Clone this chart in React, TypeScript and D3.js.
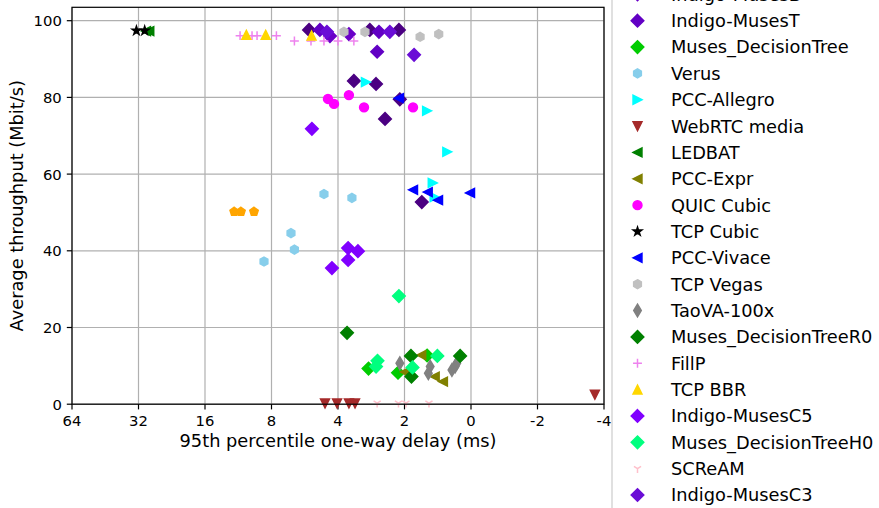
import React, { useEffect, useRef } from 'react';
import * as d3 from 'd3';

// x axis is log2 of delay, read from right to left; the tick labels are the ones printed on the chart
const xTickValues = [64, 32, 16, 8, 4, 2, 1, 0.5, 0.25];
const xTickLabels = ['64', '32', '16', '8', '4', '2', '0', '-2', '-4'];
const yTickValues = [0, 20, 40, 60, 80, 100];

// [95th percentile one-way delay (ms), average throughput (Mbit/s)]
const copa = [[11.8, 50.2], [11.0, 50.2], [9.6, 50.2]];
const indigo = [[5.41, 97.6], [2.87, 97.6], [2.12, 97.6], [3.39, 84.3], [2.69, 83.5], [2.1, 79.5], [2.45, 74.4], [1.67, 52.7]];
const indigoMusesD = [[4.35, 96.0], [3.57, 96.5]];
const indigoMusesT = [[4.83, 97.6], [2.61, 97.1], [2.66, 91.9]];
const musesDecisionTree = [[2.91, 9.3], [2.14, 8.2], [1.58, 12.7]];
const verus = [[4.63, 54.8], [3.46, 53.8], [6.53, 44.6], [6.3, 40.3], [8.65, 37.2]];
const pccAllegro = [[2.99, 84.0], [1.58, 76.5], [1.28, 65.8], [1.49, 57.7], [1.46, 54.0]];
const webrtc = [[4.58, 0.2], [4.04, 0.2], [3.57, 0.2], [3.35, 0.2], [0.275, 2.5]];
const ledbat = [[29.6, 97.3], [28.6, 97.3]];
const pccExpr = [[1.68, 12.8], [1.46, 7.2], [1.34, 5.9], [1.99, 8.4]];
const quicCubic = [[4.44, 79.6], [4.17, 78.3], [3.57, 80.6], [3.05, 77.4], [1.83, 77.4]];
const tcpCubic = [[32.7, 97.4], [30.0, 97.4]];
const pccVivace = [[2.12, 79.8], [1.83, 55.9], [1.57, 55.3], [1.41, 53.2], [1.01, 55.1]];
const tcpVegas = [[3.76, 97.1], [3.02, 97.1], [1.7, 95.8], [1.4, 96.5]];
const taova = [[2.1, 10.7], [1.53, 9.8], [1.56, 8.1], [1.18, 9.8], [1.22, 8.9], [1.16, 10.7]];
const musesR0 = [[3.64, 18.6], [1.87, 12.6], [1.86, 7.2], [1.12, 12.6]];
const fillp = [[11.1, 96.1], [9.8, 96.1], [9.3, 96.1], [7.6, 96.1], [6.3, 94.7], [5.3, 94.7], [4.63, 94.7], [4.0, 94.7], [3.39, 94.7]];
const tcpBbr = [[10.4, 96.3], [8.5, 96.3], [5.27, 96.1]];
const indigoMusesC5 = [[5.25, 71.8], [3.6, 40.7], [3.25, 39.9], [3.6, 37.6], [4.26, 35.5]];
const musesH0 = [[2.65, 11.3], [2.69, 9.8], [1.84, 9.6], [1.42, 12.6], [2.12, 28.2]];
const scream = [[2.66, 0.3], [2.13, 0.3], [1.97, 0.3], [1.55, 0.3]];
const indigoMusesC3 = [[4.49, 97.1], [2.33, 97.1], [1.81, 91.1]];

const series = [
  { name: 'Copa', data: copa, color: '#ffa500', marker: 'p' },
  { name: 'Indigo', data: indigo, color: '#4b0082', marker: 'D' },
  { name: 'Indigo-MusesD', data: indigoMusesD, color: '#6a00c8', marker: 'D' },
  { name: 'Indigo-MusesT', data: indigoMusesT, color: '#6200c4', marker: 'D' },
  { name: 'Muses_DecisionTree', data: musesDecisionTree, color: '#00cc00', marker: 'D' },
  { name: 'Verus', data: verus, color: '#87ceeb', marker: 'h' },
  { name: 'PCC-Allegro', data: pccAllegro, color: '#00ffff', marker: '>' },
  { name: 'WebRTC media', data: webrtc, color: '#a52a2a', marker: 'v' },
  { name: 'LEDBAT', data: ledbat, color: '#008000', marker: '<' },
  { name: 'PCC-Expr', data: pccExpr, color: '#808000', marker: '<' },
  { name: 'QUIC Cubic', data: quicCubic, color: '#ff00ff', marker: 'o' },
  { name: 'TCP Cubic', data: tcpCubic, color: '#000000', marker: '*' },
  { name: 'PCC-Vivace', data: pccVivace, color: '#0000ff', marker: '<' },
  { name: 'TCP Vegas', data: tcpVegas, color: '#c0c0c0', marker: 'h' },
  { name: 'TaoVA-100x', data: taova, color: '#808080', marker: 'd' },
  { name: 'Muses_DecisionTreeR0', data: musesR0, color: '#008000', marker: 'D' },
  { name: 'FillP', data: fillp, color: '#ee82ee', marker: '+' },
  { name: 'TCP BBR', data: tcpBbr, color: '#ffd700', marker: '^' },
  { name: 'Indigo-MusesC5', data: indigoMusesC5, color: '#8000ff', marker: 'D' },
  { name: 'Muses_DecisionTreeH0', data: musesH0, color: '#00ff7f', marker: 'D' },
  { name: 'SCReAM', data: scream, color: '#ffc0cb', marker: '1' },
  { name: 'Indigo-MusesC3', data: indigoMusesC3, color: '#6a0dd6', marker: 'D' },
];

const W = 879;
const H = 508;
const left = 72;
const right = 604;
const top = 7.3;
const bottom = 404.2;
const MS = 8.9; // marker size in px
const EW = 1.5; // marker edge width
const font = '"DejaVu Sans", sans-serif';

function polygon(n: number, r: number, inner?: number) {
  const pts: string[] = [];
  const count = inner ? n * 2 : n;
  for (let i = 0; i < count; i++) {
    const a = -Math.PI / 2 + (i * 2 * Math.PI) / count;
    const rr = inner && i % 2 === 1 ? r * inner : r;
    pts.push(`${(rr * Math.cos(a)).toFixed(2)},${(rr * Math.sin(a)).toFixed(2)}`);
  }
  return 'M' + pts.join('L') + 'Z';
}

function markerPath(m: string, s: number) {
  const r = s / 2;
  const h = s * Math.SQRT1_2;
  switch (m) {
    case 'D': return `M0,${-h}L${h},0L0,${h}L${-h},0Z`;
    case 'd': return `M0,${-h}L${h * 0.6},0L0,${h}L${-h * 0.6},0Z`;
    case 'o': return `M${r},0A${r},${r} 0 1,1 ${-r},0A${r},${r} 0 1,1 ${r},0Z`;
    case '^': return `M0,${-r}L${r},${r}L${-r},${r}Z`;
    case 'v': return `M0,${r}L${r},${-r}L${-r},${-r}Z`;
    case '>': return `M${r},0L${-r},${-r}L${-r},${r}Z`;
    case '<': return `M${-r},0L${r},${-r}L${r},${r}Z`;
    case 'h': return polygon(6, r);
    case 'p': return polygon(5, r);
    case '*': return polygon(5, r, 0.381966);
    case '+': return `M${-r},0H${r}M0,${-r}V${r}`;
    case '1': return `M0,0V${r}M0,0L${0.4 * s},${-0.25 * s}M0,0L${-0.4 * s},${-0.25 * s}`;
    default: return '';
  }
}

const isLine = (m: string) => m === '+' || m === '1';

const App: React.FC = () => {
  const svgRef = useRef<SVGSVGElement>(null);

  useEffect(() => {
    if (!svgRef.current) return;
    const svg = d3.select(svgRef.current);
    svg.selectAll('*').remove();

    const x = d3.scaleLog().base(2).domain([64, 0.25]).range([left, right]);
    const y = d3.scaleLinear().domain([0, (bottom - top) / 3.835]).range([bottom, top]);

    svg.append('rect').attr('width', W).attr('height', H).attr('fill', '#ffffff');

    // grid
    const grid = svg.append('g').attr('stroke', '#b0b0b0').attr('stroke-width', 1.2);
    grid.selectAll('.gx').data(xTickValues).enter().append('line')
      .attr('x1', d => x(d)).attr('x2', d => x(d)).attr('y1', top).attr('y2', bottom);
    grid.selectAll('.gy').data(yTickValues).enter().append('line')
      .attr('x1', left).attr('x2', right).attr('y1', d => y(d)).attr('y2', d => y(d));

    // ticks + labels
    const xt = svg.append('g');
    xt.selectAll('line').data(xTickValues).enter().append('line')
      .attr('x1', d => x(d)).attr('x2', d => x(d)).attr('y1', bottom).attr('y2', bottom + 5.2)
      .attr('stroke', '#000').attr('stroke-width', 1.2);
    xt.selectAll('text').data(xTickValues).enter().append('text')
      .attr('x', d => x(d)).attr('y', bottom + 10.4 + 10.9)
      .attr('text-anchor', 'middle').attr('font-family', font).attr('font-size', 14.8)
      .text((_, i) => xTickLabels[i]);

    const yt = svg.append('g');
    yt.selectAll('line').data(yTickValues).enter().append('line')
      .attr('x1', left - 5.2).attr('x2', left).attr('y1', d => y(d)).attr('y2', d => y(d))
      .attr('stroke', '#000').attr('stroke-width', 1.2);
    yt.selectAll('text').data(yTickValues).enter().append('text')
      .attr('x', left - 10.2).attr('y', d => y(d) + 5.4)
      .attr('text-anchor', 'end').attr('font-family', font).attr('font-size', 14.8)
      .text(d => String(d));

    svg.append('text')
      .attr('x', (left + right) / 2).attr('y', 447)
      .attr('text-anchor', 'middle').attr('font-family', font).attr('font-size', 17.8)
      .text('95th percentile one-way delay (ms)');
    svg.append('text')
      .attr('transform', `translate(23,${(top + bottom) / 2}) rotate(-90)`)
      .attr('text-anchor', 'middle').attr('font-family', font).attr('font-size', 17.8)
      .text('Average throughput (Mbit/s)');

    // points
    const pts = svg.append('g');
    series.forEach(s => {
      pts.selectAll(null).data(s.data).enter().append('path')
        .attr('transform', d => `translate(${x(d[0])},${y(d[1])})`)
        .attr('d', markerPath(s.marker, MS))
        .attr('fill', isLine(s.marker) ? 'none' : s.color)
        .attr('stroke', s.color)
        .attr('stroke-width', EW)
        .attr('stroke-linejoin', 'miter');
    });

    // spines
    svg.append('rect')
      .attr('x', left).attr('y', top).attr('width', right - left).attr('height', bottom - top)
      .attr('fill', 'none').attr('stroke', '#000').attr('stroke-width', 1.2);

    // legend (runs past the top and bottom of the figure)
    const lg = svg.append('g');
    lg.append('rect')
      .attr('x', 612).attr('y', -40).attr('width', 320).attr('height', H + 80).attr('rx', 3)
      .attr('fill', '#ffffff').attr('stroke', '#d6d6d6').attr('stroke-width', 1.5);
    const rowY = (i: number) => 20.7 + 26.35 * (i - 3);
    series.forEach((s, i) => {
      lg.append('path')
        .attr('transform', `translate(637.5,${rowY(i)})`)
        .attr('d', markerPath(s.marker, MS))
        .attr('fill', isLine(s.marker) ? 'none' : s.color)
        .attr('stroke', s.color)
        .attr('stroke-width', EW);
      lg.append('text')
        .attr('x', 671).attr('y', rowY(i) + 6.4)
        .attr('font-family', font).attr('font-size', 17.8)
        .text(s.name);
    });
  }, []);

  return (
    <svg ref={svgRef} width={W} height={H} style={{ position: 'absolute', left: 0, top: 0 }} />
  );
};

export default App;
